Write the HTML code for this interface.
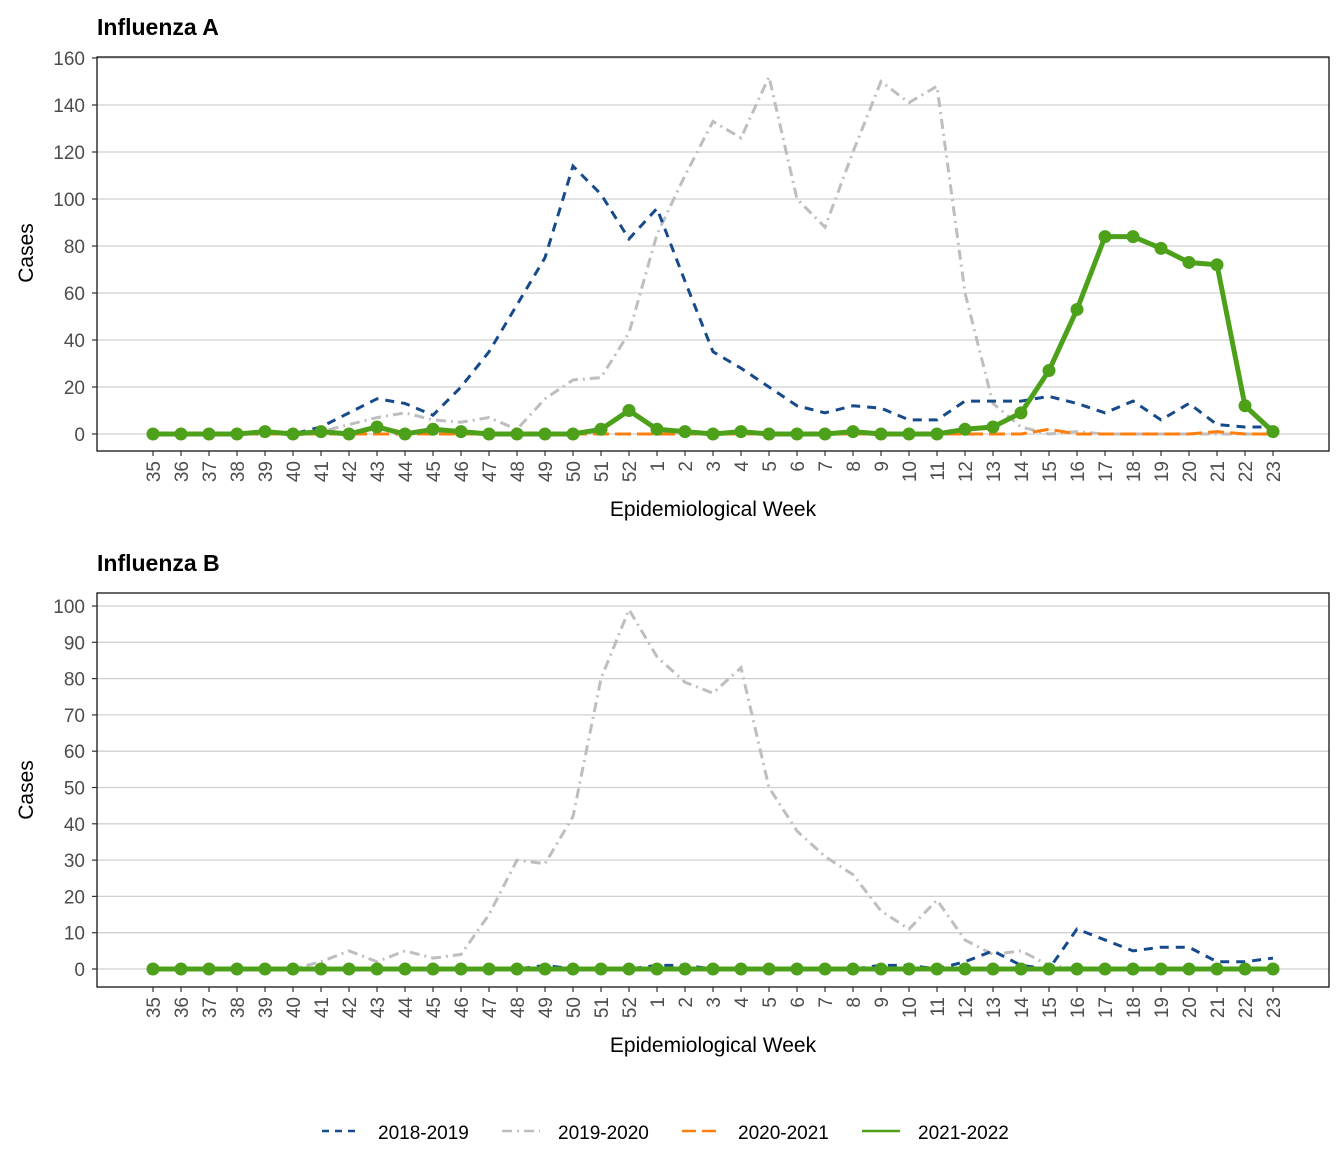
<!DOCTYPE html>
<html><head><meta charset="utf-8"><style>
body{margin:0;background:#fff;}
svg text{font-family:"Liberation Sans",Arial,sans-serif;}
</style></head><body>
<svg id="s" width="1344" height="1152" xmlns="http://www.w3.org/2000/svg">
<rect width="1344" height="1152" fill="#fff"/>
<g id="gA"></g><g id="gB"></g>
<text x="97" y="35" font-size="23" font-weight="bold">Influenza A</text>
<text x="97" y="571" font-size="23" font-weight="bold">Influenza B</text>
<g font-size="19" fill="#4d4d4d" text-anchor="end" id="yA"></g>
<g font-size="19" fill="#4d4d4d" text-anchor="end" id="yB"></g>
<g font-size="19" fill="#4d4d4d" text-anchor="end" id="xA"></g>
<g font-size="19" fill="#4d4d4d" text-anchor="end" id="xB"></g>
<text x="713" y="516" font-size="21" text-anchor="middle">Epidemiological Week</text>
<text x="713" y="1052" font-size="21" text-anchor="middle">Epidemiological Week</text>
<text transform="translate(33,253) rotate(-90)" font-size="21" text-anchor="middle">Cases</text>
<text transform="translate(33,790) rotate(-90)" font-size="21" text-anchor="middle">Cases</text>
<g>
<line x1="322" y1="1131" x2="360" y2="1131" stroke="#174A8B" stroke-width="2.5" stroke-dasharray="7,6"/>
<text x="378" y="1139" font-size="19">2018-2019</text>
<line x1="502" y1="1131" x2="540" y2="1131" stroke="#BEBEBE" stroke-width="2.5" stroke-dasharray="10,5,2,5"/>
<text x="558" y="1139" font-size="19">2019-2020</text>
<line x1="682" y1="1131" x2="720" y2="1131" stroke="#FF7F0E" stroke-width="2.5" stroke-dasharray="14,6"/>
<text x="738" y="1139" font-size="19">2020-2021</text>
<line x1="862" y1="1131" x2="900" y2="1131" stroke="#4DA11A" stroke-width="2.5"/>
<text x="918" y="1139" font-size="19">2021-2022</text>
</g>
</svg>
<script>
const NS="http://www.w3.org/2000/svg";
function el(p,t,a,txt){const e=document.createElementNS(NS,t);for(const k in a)e.setAttribute(k,a[k]);if(txt!==undefined)e.textContent=txt;p.appendChild(e);return e;}
const weeks=[];for(let w=35;w<=52;w++)weeks.push(w);for(let w=1;w<=23;w++)weeks.push(w);
const X=i=>153+28*i;
function panel(g,top,bot,y0,scale,gridVals,data,xg,yg){
  gridVals.forEach(v=>el(g,'line',{x1:97,x2:1329,y1:y0-scale*v,y2:y0-scale*v,stroke:'#d0d0d0','stroke-width':1.3}));
  el(g,'rect',{x:97,y:top,width:1232,height:bot-top,fill:'none',stroke:'#000','stroke-width':1.2});
  gridVals.forEach(v=>{el(g,'line',{x1:92,x2:97,y1:y0-scale*v,y2:y0-scale*v,stroke:'#333','stroke-width':1.2});
    el(yg,'text',{x:85,y:y0-scale*v+7},String(v));});
  weeks.forEach((w,i)=>{el(g,'line',{x1:X(i),x2:X(i),y1:bot,y2:bot+5,stroke:'#333','stroke-width':1.2});
    el(xg,'text',{transform:`translate(${X(i)+7},${bot+10}) rotate(-90)`},String(w));});
  const st=[['#174A8B','9,7',3],['#BEBEBE','10,5,2,5',3],['#FF7F0E','16,6',3]];
  [1,0,2].forEach(k=>{const d=data[k];el(g,'polyline',{points:d.map((v,i)=>X(i)+','+(y0-scale*v)).join(' '),fill:'none',stroke:st[k][0],'stroke-dasharray':st[k][1],'stroke-width':st[k][2]});});
  const d=data[3];
  el(g,'polyline',{points:d.map((v,i)=>X(i)+','+(y0-scale*v)).join(' '),fill:'none',stroke:'#4DA11A','stroke-width':5,'stroke-linejoin':'round'});
  d.forEach((v,i)=>el(g,'circle',{cx:X(i),cy:y0-scale*v,r:6.5,fill:'#4DA11A'}));
}
const A=[
[0,0,0,0,0,0,3,9,15,13,8,20,35,55,75,114,102,83,96,65,35,28,20,12,9,12,11,6,6,14,14,14,16,13,9,14,6,13,4,3,3],
[0,0,0,0,0,1,1,4,7,9,6,5,7,2,15,23,24,43,85,110,133,126,152,100,88,120,150,141,148,60,13,3,0,1,0,0,0,0,0,0,0],
[0,0,0,0,0,0,0,0,0,0,0,0,0,0,0,0,0,0,0,0,0,0,0,0,0,0,0,0,0,0,0,0,2,0,0,0,0,0,1,0,0],
[0,0,0,0,1,0,1,0,3,0,2,1,0,0,0,0,2,10,2,1,0,1,0,0,0,1,0,0,0,2,3,9,27,53,84,84,79,73,72,12,1]];
const B=[
[0,0,0,0,0,0,0,0,0,0,0,0,0,0,1,0,0,0,1,1,0,0,0,0,0,0,1,1,0,2,5,1,0,11,8,5,6,6,2,2,3],
[0,0,0,0,0,0,2,5,2,5,3,4,15,30,29,42,80,99,86,79,76,83,50,38,31,26,16,11,19,8,4,5,1,0,0,0,0,0,0,0,0],
new Array(41).fill(0),new Array(41).fill(0)];
panel(document.getElementById('gA'),57,451,434,2.35,[0,20,40,60,80,100,120,140,160],A,document.getElementById('xA'),document.getElementById('yA'));
panel(document.getElementById('gB'),593,987,969,3.63,[0,10,20,30,40,50,60,70,80,90,100],B,document.getElementById('xB'),document.getElementById('yB'));
</script>
</body></html>
